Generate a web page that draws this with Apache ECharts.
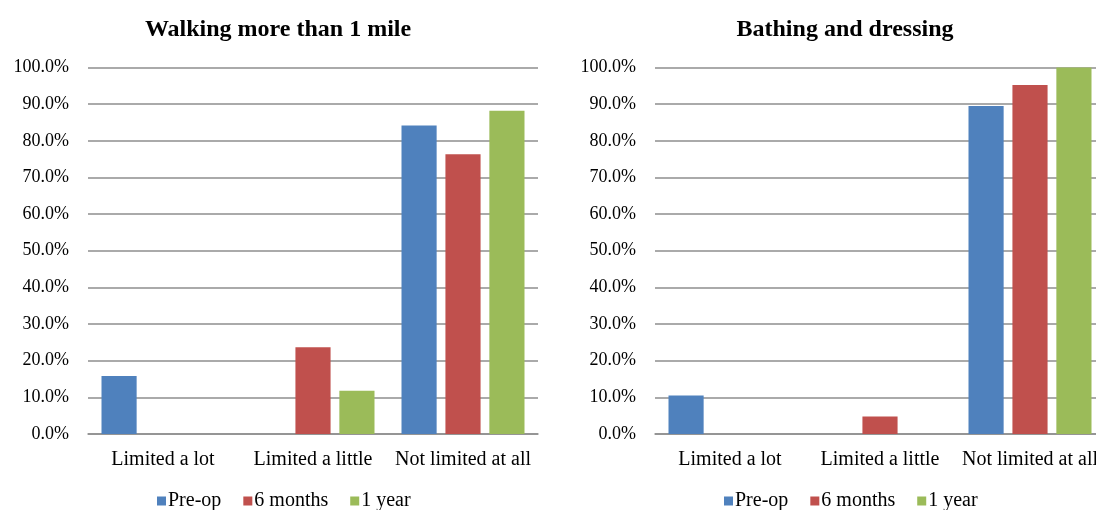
<!DOCTYPE html>
<html>
<head>
<meta charset="utf-8">
<script src="https://cdn.jsdelivr.net/npm/echarts@6/dist/echarts.min.js"></script>
<style>
  html, body { margin: 0; padding: 0; background: #fff; overflow: hidden; width: 1096px; height: 510px; }
  /* canvas is a little wider than the page so the right panel runs off the edge */
  #chart { width: 1112px; height: 510px; }
</style>
</head>
<body>
<div id="chart"></div>
<script>
// Functional limitation responses, share of patients per period
const categories = ['Limited a lot', 'Limited a little', 'Not limited at all'];
const periods = ['Pre-op', '6 months', '1 year'];
const colors = ['#4F81BD', '#C0504D', '#9BBB59'];

const titleWalking = 'Walking more than 1 mile';
const walkingPreop = [15.8, 0, 84.2];
const walking6m = [0, 23.7, 76.3];
const walking1y = [0, 11.8, 88.2];

const titleBathing = 'Bathing and dressing';
const bathingPreop = [10.5, 0, 89.5];
const bathing6m = [0, 4.8, 95.2];
const bathing1y = [0, 0, 100];

const yTicks = { min: 0, max: 100, interval: 10 };

const FONT = "'Liberation Serif', 'Times New Roman', serif";

function xAxis(gridIndex) {
  return {
    type: 'category',
    gridIndex,
    data: categories,
    axisLine: { show: true, lineStyle: { color: '#8e8e8e', width: 1.5 } },
    axisTick: { show: false },
    axisLabel: { color: '#000', fontFamily: FONT, fontSize: 20, margin: 16, interval: 0, hideOverlap: false }
  };
}

function yAxis(gridIndex) {
  return {
    type: 'value',
    gridIndex,
    min: yTicks.min,
    max: yTicks.max,
    interval: yTicks.interval,
    axisLine: { show: false },
    axisTick: { show: false },
    splitLine: { show: true, lineStyle: { color: '#8e8e8e', width: 1.5 } },
    axisLabel: {
      color: '#000', fontFamily: FONT, fontSize: 18, margin: 19,
      formatter: v => v.toFixed(1) + '%'
    }
  };
}

function bars(gridIndex, values) {
  return values.map((vals, i) => ({
    name: periods[i],
    type: 'bar',
    xAxisIndex: gridIndex,
    yAxisIndex: gridIndex,
    data: vals,
    barGap: '25%',
    barCategoryGap: '18%',
    itemStyle: { color: colors[i] }
  }));
}

function legend(leftX) {
  return {
    data: periods,
    left: leftX,
    top: 486,
    icon: 'rect',
    itemWidth: 9,
    itemHeight: 9,
    itemGap: 22,
    textStyle: { color: '#000', fontFamily: FONT, fontSize: 20, padding: [0, 0, 0, -3] }
  };
}

const chart = echarts.init(document.getElementById('chart'), null, { renderer: 'canvas' });

chart.setOption({
  animation: false,
  color: colors,
  title: [
    { text: titleWalking, left: 273, top: 13, textAlign: 'center',
      textStyle: { fontFamily: FONT, fontSize: 24, fontWeight: 'bold', color: '#000' } },
    { text: titleBathing, left: 840, top: 13, textAlign: 'center',
      textStyle: { fontFamily: FONT, fontSize: 24, fontWeight: 'bold', color: '#000' } }
  ],
  legend: [legend(152), legend(719)],
  grid: [
    { left: 88, width: 450, top: 67.5, bottom: 76 },
    { left: 655, width: 450, top: 67.5, bottom: 76 }
  ],
  xAxis: [xAxis(0), xAxis(1)],
  yAxis: [yAxis(0), yAxis(1)],
  series: [
    ...bars(0, [walkingPreop, walking6m, walking1y]),
    ...bars(1, [bathingPreop, bathing6m, bathing1y])
  ]
});
</script>
</body>
</html>
